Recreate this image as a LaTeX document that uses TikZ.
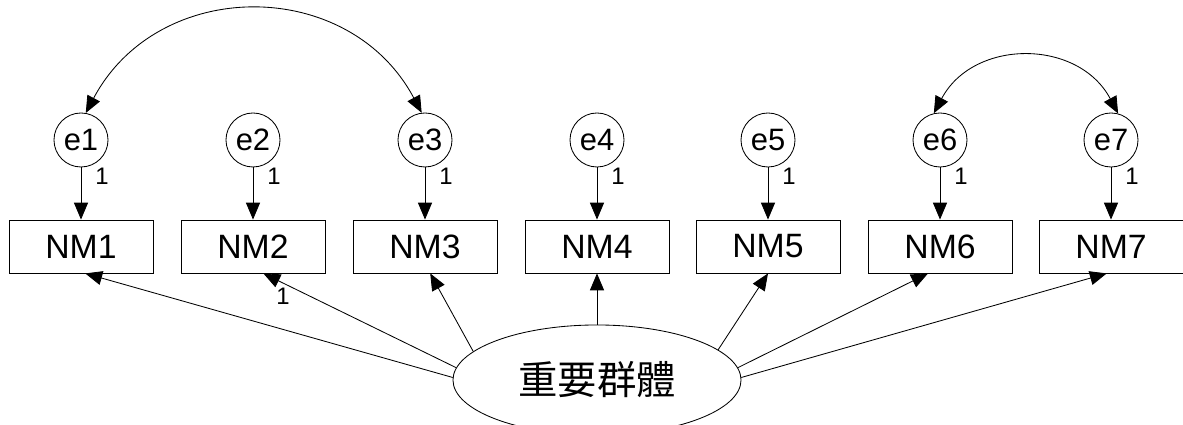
\documentclass[tikz,border=0pt]{standalone}
\usepackage{fontspec}
\setmainfont{Liberation Sans}
\newfontfamily\cjk{Noto Sans CJK TC}
\usetikzlibrary{arrows.meta,shapes.geometric}

\begin{document}
\begin{tikzpicture}[x=0.025cm,y=0.025cm,
		obs/.style={draw, line width=0.6pt, fill=white, minimum width=3.6cm, minimum height=1.325cm, inner sep=0pt, font=\fontsize{24}{27}\selectfont},
		err/.style={draw, circle, line width=0.6pt, fill=white, minimum size=1.35cm, inner sep=0pt, font=\fontsize{22}{24}\selectfont},
		lat/.style={draw, ellipse, line width=0.6pt, fill=white, minimum width=7.2cm, minimum height=2.75cm, inner sep=0pt, font=\cjk\fontsize{28}{30}\selectfont},
		reg/.style={-{Triangle[length=12pt,width=10pt]}, line width=0.6pt},
		cov/.style={{Triangle[length=12pt,width=10pt]}-{Triangle[length=12pt,width=10pt]}, line width=0.6pt},
		wt/.style={inner sep=0pt, font=\fontsize{17}{19}\selectfont}]
		\useasboundingbox (0,0) rectangle (1183,425);
		% indicators and their errors
		\foreach \i/\x in {1/81,2/253,3/425,4/597,5/768,6/940,7/1111} {
			\node[obs] (nm\i) at (\x,178.5) {NM\i};
			\node[err] (e\i) at (\x,285) {e\i};
			\draw[reg] (e\i) -- (nm\i);
			\node[wt] at (\x+21,249) {1};
		}
		% latent factor
		\node[lat] (grp) at (597,45) {重要群體};
		\draw[reg] (grp.179) -- (nm1.279);
		\draw[reg] (grp.175) -- (nm2.291);
		\draw[reg] (grp.167) -- (nm3.281);
		\draw[reg] (grp.north) -- (nm4.south);
		\draw[reg] (grp.14) -- (nm5.south);
		\draw[reg] (grp.5) -- (nm6.246);
		\draw[reg] (grp.1) -- (nm7.261);
		\node[wt] at (283,129) {1};
		% correlated errors
		\draw[cov] (e1.80) to[out=62,in=118,looseness=1.18] (e3.97);
		\draw[cov] (e6.103) to[out=62,in=118,looseness=1.18] (e7.75);
	\end{tikzpicture}
\end{document}
